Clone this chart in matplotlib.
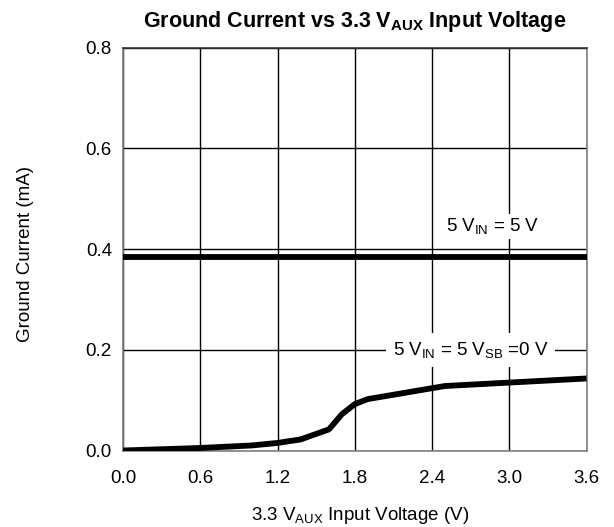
import matplotlib
matplotlib.use("Agg")
import matplotlib.pyplot as plt

plt.rcParams['font.family'] = ['Liberation Sans', 'DejaVu Sans']
plt.rcParams['mathtext.fontset'] = 'custom'
plt.rcParams['mathtext.rm'] = 'Liberation Sans'
plt.rcParams['mathtext.it'] = 'Liberation Sans'
plt.rcParams['mathtext.bf'] = 'Liberation Sans:bold'

v_aux = [0.0, 0.6, 1.0, 1.2, 1.38, 1.6, 1.7, 1.8, 1.9, 2.5, 3.6]
i_off = [0.0, 0.005, 0.010, 0.015, 0.022, 0.042, 0.072, 0.092, 0.102, 0.128, 0.143]
v_on = [0.0, 3.6]
i_on = [0.384, 0.384]

xticks = [0.0, 0.6, 1.2, 1.8, 2.4, 3.0, 3.6]
yticks = [0.0, 0.2, 0.4, 0.6, 0.8]

fs = 13.5
fig = plt.figure(figsize=(6.14, 5.27), dpi=100)
ax = fig.add_axes([123/614, 1-450.5/527, (586.5-123)/614, (450.5-47.5)/527])
ax.plot(v_on, i_on, color='black', lw=4.2, solid_capstyle='butt', zorder=3)
ax.plot(v_aux, i_off, color='black', lw=4.2, solid_capstyle='butt', zorder=3)
ax.set_xlim(0, 3.6)
ax.set_ylim(0, 0.8)
ax.set_xticks(xticks)
ax.set_yticks(yticks)
ax.set_xticklabels([f"{t:.1f}" for t in xticks], fontsize=fs)
ax.set_yticklabels([f"{t:.1f}" for t in yticks], fontsize=fs)
ax.tick_params(axis='x', length=0, pad=14)
ax.tick_params(axis='y', length=0, pad=8)
ax.grid(True, color='black', lw=1)
for s in ax.spines.values():
    s.set_color('#808080')
    s.set_linewidth(1.2)
ax.spines['top'].set_color('#333333')

ax.text(2.87, 0.445, r"5 V$_{\mathrm{IN}}$ = 5 V", fontsize=fs, ha='center', va='center',
        bbox=dict(facecolor='white', edgecolor='none', pad=2), zorder=4)
ax.text(2.70, 0.2, r"5 V$_{\mathrm{IN}}$ = 5 V$_{\mathrm{SB}}$ =0 V", fontsize=fs, ha='center', va='center',
        bbox=dict(facecolor='white', edgecolor='none', pad=5), zorder=4)

fig.text((123+586)/2/614, 1-22/527, r"Ground Current vs 3.3 V$_{\mathbf{AUX}}$ Input Voltage",
         fontsize=15.5, fontweight='bold', ha='center', va='center')
fig.text(360/614, 1-516/527, r"3.3 V$_{\mathrm{AUX}}$ Input Voltage (V)",
         fontsize=fs, ha='center', va='center')
fig.text(26/614, 1-254/527, "Ground Current (mA)", fontsize=fs, rotation=90,
         ha='center', va='center')

fig.savefig("out.png", dpi=100)
